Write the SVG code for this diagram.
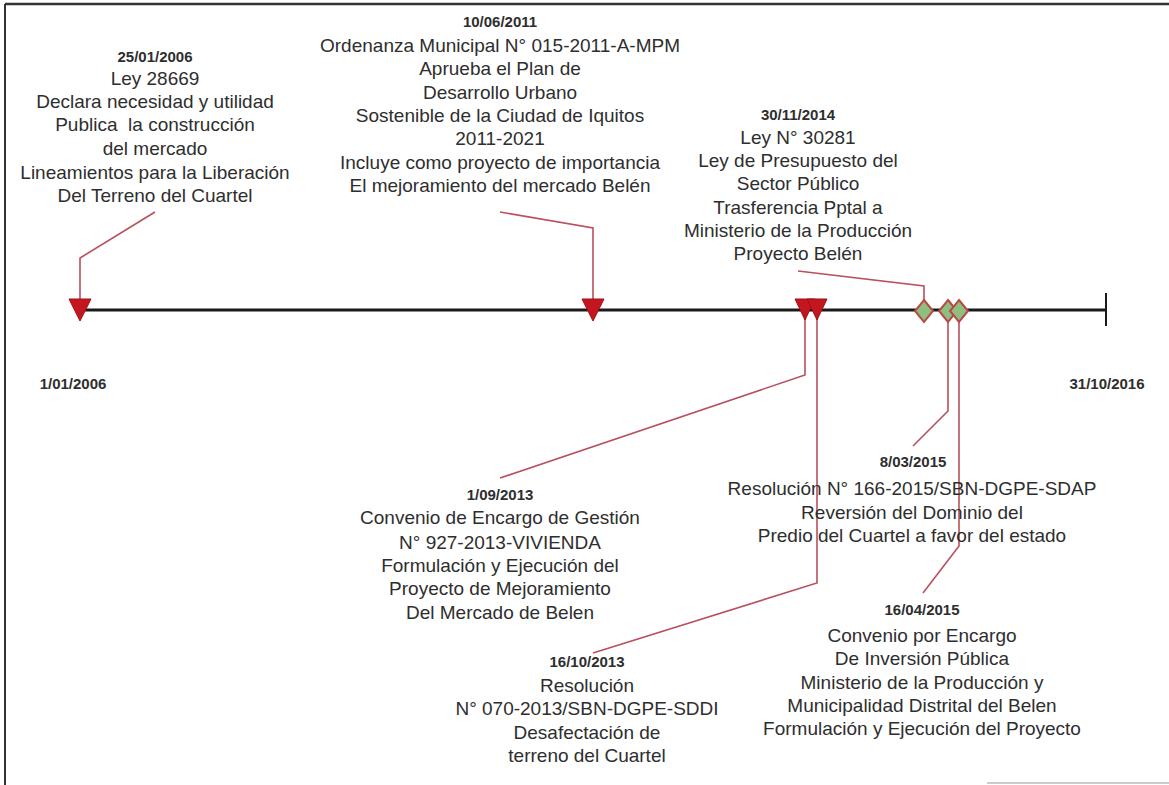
<svg xmlns="http://www.w3.org/2000/svg" width="1169" height="785" viewBox="0 0 1169 785">
<style>
.t{font-family:"Liberation Sans",Arial,sans-serif;font-size:19px;fill:#2e2e2e;text-anchor:middle}
.d{font-family:"Liberation Sans",Arial,sans-serif;font-size:15px;font-weight:bold;fill:#2e2e2e;text-anchor:middle}
.c{fill:none;stroke:#b9505e;stroke-width:1.6}
.tri{fill:#c4161e;stroke:#a01018;stroke-width:1}
.dia{fill:#8fbf80;stroke:#b84a46;stroke-width:2}
</style>
<rect width="1169" height="785" fill="#ffffff"/>
<g id="frame" stroke="#333" fill="none">
<line x1="5" y1="4" x2="1169" y2="4" stroke-width="2.5"/>
<line x1="5" y1="4" x2="5" y2="785" stroke-width="2"/>
<line x1="987" y1="783" x2="1169" y2="783" stroke="#bbb" stroke-width="1.5"/>
</g>
<g id="timeline">
<line x1="80" y1="310" x2="1106" y2="310" stroke="#1a1a1a" stroke-width="3"/>
<line x1="1106" y1="293" x2="1106" y2="326" stroke="#1a1a1a" stroke-width="2"/>
<text class="d" x="73" y="389">1/01/2006</text>
<text class="d" x="1107" y="389">31/10/2016</text>
</g>
<g id="connectors">
<polyline class="c" points="80,310 80,258 155,212"/>
<polyline class="c" points="593,310 593,228 500,212"/>
<polyline class="c" points="805,310 805,375 500,478"/>
<polyline class="c" points="817,310 817,583 593,653"/>
<polyline class="c" points="924,305 924,286 798,271"/>
<polyline class="c" points="948,315 948,411 913,446"/>
<polyline class="c" points="959,315 959,546 923,593"/>
</g>
<g id="m2006"><polygon class="tri" points="69,299 91,299 80,321"/></g>
<g id="m2011"><polygon class="tri" points="582,299 604,299 593,321"/></g>
<g id="m2013a"><polygon class="tri" points="795,299 815,299 805,320"/></g>
<g id="m2013b"><polygon class="tri" points="807,299 827,299 817,320"/></g>
<g id="m2014"><polygon class="dia" points="924,300 933,311 924,322 915,311"/></g>
<g id="m2015a"><polygon class="dia" points="948,300 957,311 948,322 939,311"/></g>
<g id="m2015b"><polygon class="dia" points="959,300 968,311 959,322 950,311"/></g>
<g id="n2006">
<text class="d" x="155" y="62">25/01/2006</text>
<text class="t" x="155" y="85">Ley 28669</text>
<text class="t" x="155" y="108">Declara necesidad y utilidad</text>
<text class="t" x="155" y="131" xml:space="preserve">Publica  la construcción</text>
<text class="t" x="155" y="155">del mercado</text>
<text class="t" x="155" y="179">Lineamientos para la Liberación</text>
<text class="t" x="155" y="202">Del Terreno del Cuartel</text>
</g>
<g id="n2011">
<text class="d" x="500" y="27">10/06/2011</text>
<text class="t" x="500" y="52">Ordenanza Municipal N° 015-2011-A-MPM</text>
<text class="t" x="500" y="75">Aprueba el Plan de</text>
<text class="t" x="500" y="99">Desarrollo Urbano</text>
<text class="t" x="500" y="122">Sostenible de la Ciudad de Iquitos</text>
<text class="t" x="500" y="145">2011-2021</text>
<text class="t" x="500" y="169">Incluye como proyecto de importancia</text>
<text class="t" x="500" y="192">El mejoramiento del mercado Belén</text>
</g>
<g id="n2014">
<text class="d" x="798" y="120">30/11/2014</text>
<text class="t" x="798" y="144">Ley N° 30281</text>
<text class="t" x="798" y="167">Ley de Presupuesto del</text>
<text class="t" x="798" y="190">Sector Público</text>
<text class="t" x="798" y="214">Trasferencia Pptal a</text>
<text class="t" x="798" y="237">Ministerio de la Producción</text>
<text class="t" x="798" y="260">Proyecto Belén</text>
</g>
<g id="n2013a">
<text class="d" x="500" y="500">1/09/2013</text>
<text class="t" x="500" y="524">Convenio de Encargo de Gestión</text>
<text class="t" x="500" y="549">N° 927-2013-VIVIENDA</text>
<text class="t" x="500" y="572">Formulación y Ejecución del</text>
<text class="t" x="500" y="595">Proyecto de Mejoramiento</text>
<text class="t" x="500" y="619">Del Mercado de Belen</text>
</g>
<g id="n2013b">
<text class="d" x="587" y="667">16/10/2013</text>
<text class="t" x="587" y="692">Resolución</text>
<text class="t" x="587" y="715">N° 070-2013/SBN-DGPE-SDDI</text>
<text class="t" x="587" y="739">Desafectación de</text>
<text class="t" x="587" y="762">terreno del Cuartel</text>
</g>
<g id="n2015a">
<text class="d" x="913" y="467">8/03/2015</text>
<text class="t" x="912" y="495">Resolución N° 166-2015/SBN-DGPE-SDAP</text>
<text class="t" x="912" y="519">Reversión del Dominio del</text>
<text class="t" x="912" y="542">Predio del Cuartel a favor del estado</text>
</g>
<g id="n2015b">
<text class="d" x="922" y="615">16/04/2015</text>
<text class="t" x="922" y="642">Convenio por Encargo</text>
<text class="t" x="922" y="665">De Inversión Pública</text>
<text class="t" x="922" y="689">Ministerio de la Producción y</text>
<text class="t" x="922" y="712">Municipalidad Distrital del Belen</text>
<text class="t" x="922" y="735">Formulación y Ejecución del Proyecto</text>
</g>
</svg>
